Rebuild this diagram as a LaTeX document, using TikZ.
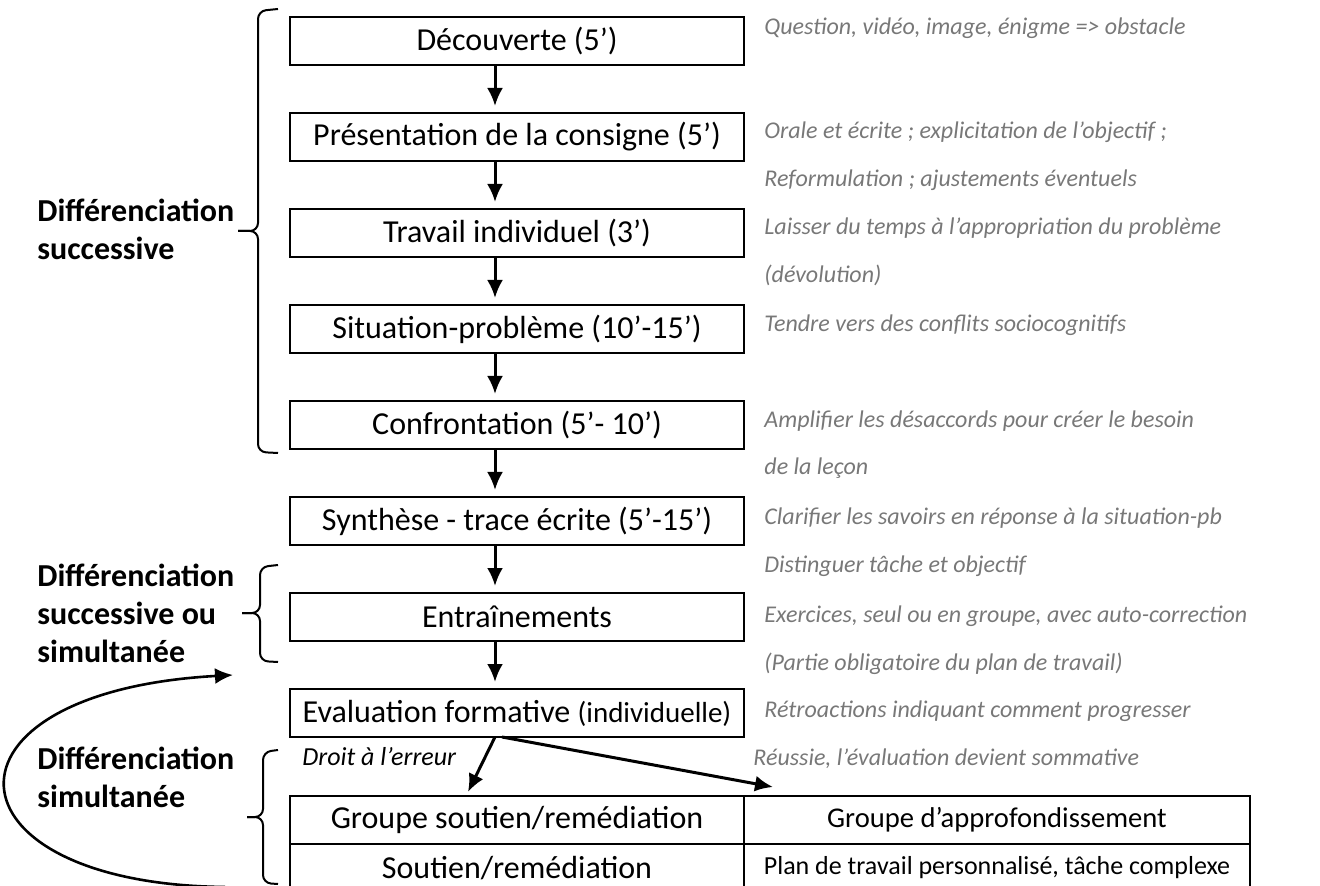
\documentclass[tikz,border=0pt]{standalone}
\usepackage{fontspec}
\setmainfont{Carlito}
\usepackage{tikz}
\usetikzlibrary{matrix,arrows.meta,positioning}

\definecolor{notegray}{RGB}{120,120,120}

\tikzset{
  stepbox/.style={draw, line width=1pt, minimum width=227pt, minimum height=24pt,
    inner sep=0pt, outer sep=0pt, font=\fontsize{16}{19}\selectfont},
  cellbox/.style={draw, line width=1pt, minimum height=24pt, inner sep=0pt, outer sep=0pt},
  note/.style={anchor=base west, inner sep=0pt, align=left, text=notegray,
    font=\fontsize{12}{24}\selectfont\itshape},
  difflabel/.style={anchor=base west, inner sep=0pt, align=left,
    font=\fontsize{16}{19}\selectfont\bfseries},
  groupbrace/.style={line width=1pt, rounded corners=4pt},
  flow/.style={-{Latex[length=9pt,width=8pt]}, line width=1.5pt}
}

\begin{document}
\begin{tikzpicture}[x=0.5pt, y=-0.5pt]
  \useasboundingbox (0,0) rectangle (1320,886);

  % steps of the lesson
  \matrix (m) [matrix of nodes, row sep=23pt, nodes={stepbox}, anchor=north, inner sep=0pt, outer sep=0pt] at (517,16)
  {
    Découverte (5’) \\
    Présentation de la consigne (5’) \\
    Travail individuel (3’) \\
    Situation-problème (10’-15’) \\
    Confrontation (5’- 10’) \\
    Synthèse - trace écrite (5’-15’) \\
    Entraînements \\
    Evaluation formative {\fontsize{14.5}{17}\selectfont(individuelle)} \\
  };
  \path[flow, shorten >=3.5pt]
  ([xshift=-11pt]m-1-1.south) edge ([xshift=-11pt]m-2-1.north)
  ([xshift=-11pt]m-2-1.south) edge ([xshift=-11pt]m-3-1.north)
  ([xshift=-11pt]m-3-1.south) edge ([xshift=-11pt]m-4-1.north)
  ([xshift=-11pt]m-4-1.south) edge ([xshift=-11pt]m-5-1.north)
  ([xshift=-11pt]m-5-1.south) edge ([xshift=-11pt]m-6-1.north)
  ([xshift=-11pt]m-6-1.south) edge ([xshift=-11pt]m-7-1.north)
  ([xshift=-11pt]m-7-1.south) edge ([xshift=-11pt]m-8-1.north)
  ;

  % groups
  \node[cellbox, minimum width=227pt, font=\fontsize{16}{19}\selectfont] (soutienhead) at (517,820) {Groupe soutien/remédiation};
  \node[cellbox, minimum width=253pt, font=\fontsize{14.3}{17}\selectfont, right=0pt of soutienhead] (approhead) {Groupe d’approfondissement};
  \node[cellbox, minimum width=227pt, font=\fontsize{16}{19}\selectfont, below=0pt of soutienhead] (soutien) {Soutien/remédiation};
  \node[cellbox, minimum width=253pt, font=\fontsize{13}{16}\selectfont, below=0pt of approhead] (plan) {Plan de travail personnalisé, tâche complexe};
  \path[flow]
  ([xshift=-11pt]m-8-1.south) edge ([xshift=-24.5pt,yshift=2pt]soutienhead.north)
  ([xshift=-7.5pt]m-8-1.south) edge ([xshift=14.5pt,yshift=4.5pt]approhead.north west)
  ;

  % comments (base = last line)
  \node[note] (n1) at (764,35) {Question, vidéo, image, énigme => obstacle};
  \node[note] (n2) at (764,187) {Orale et écrite ; explicitation de l’objectif ;\\Reformulation ; ajustements éventuels};
  \node[note] (n3) at (764,283) {Laisser du temps à l’appropriation du problème\\(dévolution)};
  \node[note] (n4) at (764,332) {Tendre vers des conflits sociocognitifs};
  \node[note] (n5) at (764,475) {Amplifier les désaccords pour créer le besoin\\de la leçon};
  \node[note] (n6) at (764,572) {Clarifier les savoirs en réponse à la situation-pb\\Distinguer tâche et objectif};
  \node[note] (n7) at (764,670) {Exercices, seul ou en groupe, avec auto-correction\\(Partie obligatoire du plan de travail)};
  \node[note] (n8) at (764,717) {Rétroactions indiquant comment progresser};
  \node[note] (n9) at (753,765) {Réussie, l’évaluation devient sommative};
  \node[note, text=black, font=\fontsize{13}{16}\selectfont\itshape] (n10) at (302,765) {Droit à l’erreur};

  % kinds of differentiation
  \draw[groupbrace] (278,9) -- (258,11) -- (258,231) -- (238,231);
  \draw[groupbrace] (278,453) -- (258,452) -- (258,231) -- (238,231);
  \draw[groupbrace] (278,565) -- (260,567) -- (260,613) -- (242,613);
  \draw[groupbrace] (278,662) -- (260,661) -- (260,613) -- (242,613);
  \draw[groupbrace] (278,750) -- (263,752) -- (263,817) -- (247,817);
  \draw[groupbrace] (278,884) -- (263,883) -- (263,817) -- (247,817);
  \node[difflabel] (succ) at (37,260) {Différenciation\\successive};
  \node[difflabel] (succsim) at (37,662) {Différenciation\\successive ou\\simultanée};
  \node[difflabel] (simul) at (37,807) {Différenciation\\simultanée};

  \coordinate (loopstart) at (225,887);
  \coordinate (looptip) at (233,675);
  \draw[flow, line width=1.3pt] (loopstart) .. controls (-62,884) and (-75,692) .. (looptip);
\end{tikzpicture}
\end{document}
